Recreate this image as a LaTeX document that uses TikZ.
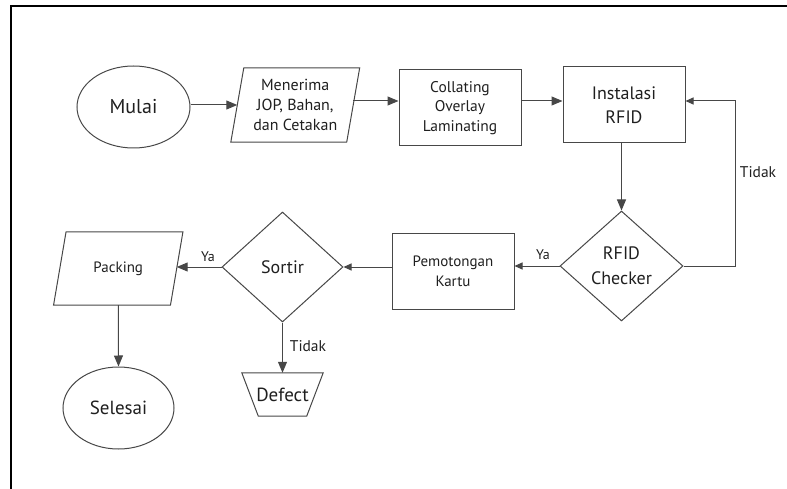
\documentclass[tikz,border=0pt]{standalone}
\usepackage{fontspec}
\setmainfont{PT Sans}
\usetikzlibrary{arrows.meta,shapes.geometric}
\definecolor{lc}{gray}{0.28}
\definecolor{tc}{gray}{0.12}
\begin{document}
\begin{tikzpicture}[x=1pt,y=-1pt,
  line/.style={draw=lc, line width=1pt},
  arr/.style={line, -{Triangle[length=11pt,width=9pt]}},
  sarr/.style={line, -{Triangle[length=8pt,width=7pt]}},
  box/.style={rectangle, line, minimum width=122pt, minimum height=76pt, inner sep=0pt, align=center, text=tc},
  term/.style={ellipse, line, minimum width=113pt, minimum height=82pt, inner sep=0pt, text=tc},
  dia/.style={diamond, line, minimum width=123pt, minimum height=110pt, inner sep=0pt, align=center, text=tc},
  pnode/.style={rectangle, minimum width=115.5pt, minimum height=74pt, inner sep=0pt, align=center, text=tc},
  lbl/.style={inner sep=0pt, text=tc},
  f/.style 2 args={font=\fontsize{#1}{#2}\selectfont}]
\useasboundingbox (0,0) rectangle (787,489);
\draw[line width=1.3pt] (11,489) -- (11,6) -- (787,6);

\node[term, f={20}{24}] (mul) at (133.5,107) {Mulai};
\node[pnode, f={16}{20}] (men) at (295.25,105) {Menerima\\JOP, Bahan,\\dan Cetakan};
\draw[line] ([xshift=6.5pt]men.north west) -- ([xshift=6.5pt]men.north east) -- ([xshift=-6.5pt]men.south east) -- ([xshift=-6.5pt]men.south west) -- cycle;
\node[box, f={15.5}{19.5}] (col) at (460,108) {Collating\\Overlay\\Laminating};
\node[box, f={18}{24}] (ins) at (624,105) {Instalasi\\RFID};
\node[dia, f={18}{25}] (rfid) at (621.5,266) {RFID\\Checker};
\node[box, minimum height=75pt, f={15}{20}] (pem) at (453,271.5) {Pemotongan\\Kartu};
\node[dia, minimum width=121pt, f={18}{22}] (sor) at (282.5,267) {Sortir};
\node[pnode, minimum width=116.5pt, minimum height=73pt, f={15}{18}] (pack) at (118.25,268.5) {Packing};
\draw[line] ([xshift=6.25pt]pack.north west) -- ([xshift=6.25pt]pack.north east) -- ([xshift=-6.25pt]pack.south east) -- ([xshift=-6.25pt]pack.south west) -- cycle;
\node[term, minimum width=111pt, f={19}{23}] (sel) at (118.5,408) {Selesai};
\node[rectangle, minimum width=81pt, minimum height=43pt, inner sep=0pt, text=tc, f={19}{23}] (def) at (282.5,394.5) {Defect};
\draw[line] (def.north west) -- (def.north east) -- ([xshift=-16.5pt]def.south east) -- ([xshift=16.5pt]def.south west) -- cycle;

\path ([yshift=4pt]men.east) coordinate (m1);
\draw[arr] (mul.east |- men.west) -- (men.west);
\draw[arr] (m1) -- (m1 -| col.west);
\draw[arr] (col.east |- m1) -- (m1 -| ins.west);
\draw[arr] (ins.south -| rfid.north) -- (rfid.north);
\draw[sarr] (rfid.east) -- ++(52,0) |- ([yshift=4pt]ins.east);
\draw[sarr] (rfid.west) -- (rfid.west -| pem.east);
\draw[sarr] (pem.west |- sor.east) -- (sor.east);
\draw[arr] (sor.west) -- (sor.west -| pack.east);
\draw[arr] (pack.south) -- (sel.north);
\draw[arr] (sor.south) -- (def.north);

\node[lbl, f={14}{16}] (ya1) at (543,255) {Ya};
\node[lbl, f={14}{16}] (ya2) at (208,257) {Ya};
\node[lbl, f={15.5}{18}] (td1) at (758,172) {Tidak};
\node[lbl, f={15.5}{18}] (td2) at (308,346) {Tidak};
\end{tikzpicture}
\end{document}
